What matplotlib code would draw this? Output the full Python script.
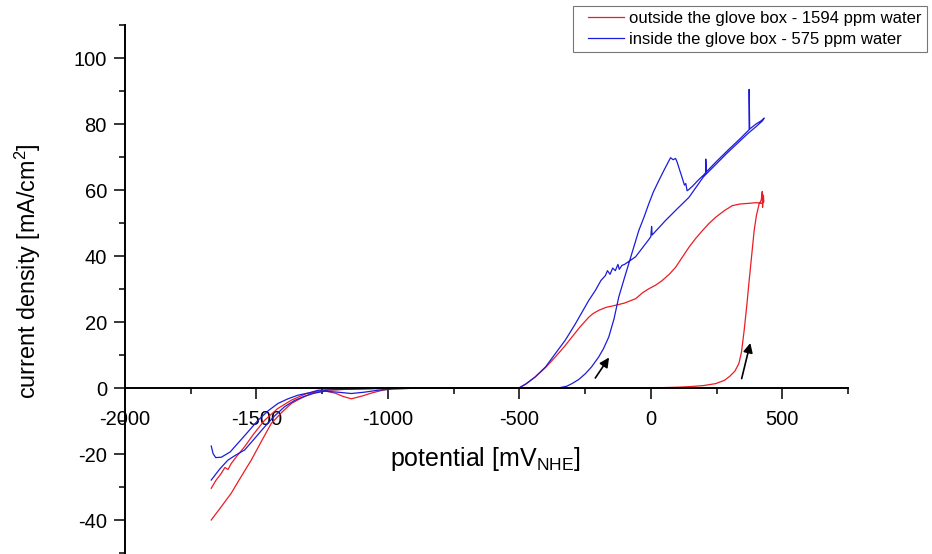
import matplotlib
matplotlib.use('Agg')
import matplotlib.pyplot as plt
from matplotlib.ticker import MultipleLocator
from matplotlib.legend_handler import HandlerLine2D

plt.rcParams['font.family'] = ['Liberation Sans', 'DejaVu Sans']
plt.rcParams['mathtext.default'] = 'regular'
plt.rcParams['axes.unicode_minus'] = False

# outside the glove box (red) - one cycle
red_x = [-1672, -1655, -1634, -1620, -1608, -1596, -1575, -1545, -1510, -1469, -1420, -1367,
         -1310, -1265, -1240, -1200, -1170, -1139, -1100, -1060, -1020, -990, -900, -700, -500,
         -300, -100, 0, 100, 150, 200, 247, 280, 300, 320, 335, 345, 355, 365, 374, 384, 393,
         402, 412, 420, 424, 425, 428, 430,
         424, 400, 374, 340, 310, 280, 247, 220, 196, 170, 145, 120, 94, 70, 43, 20, -8, -30,
         -58, -100, -135, -170, -198, -220, -236, -270, -300, -330, -363, -400, -440, -475, -503,
         -600, -800, -950, -1050, -1150, -1240, -1291, -1330, -1367, -1405, -1444, -1480, -1520,
         -1560, -1596, -1635, -1672]
red_y = [-30.3, -28.0, -25.8, -24.0, -24.6, -22.8, -20.6, -17.7, -13.8, -9.7, -6.2, -3.6,
         -1.6, -0.9, -0.8, -1.5, -2.5, -3.2, -2.4, -1.4, -0.6, -0.2, 0, 0, 0,
         0, 0.05, 0.1, 0.3, 0.5, 0.8, 1.4, 2.4, 3.6, 5.2, 7.5, 11.0, 17.5, 25.0, 32.6, 40.5, 47.7,
         52.5, 55.8, 57.0, 59.6, 54.8, 58.5, 56.5,
         56.0, 56.2, 56.0, 55.8, 55.3, 53.8, 51.8, 49.8, 47.7, 45.3, 42.7, 39.7, 36.6, 34.5, 32.6,
         31.3, 30.1, 29.0, 27.1, 25.8, 25.1, 24.5, 23.6, 22.6, 21.5, 18.5, 15.5, 12.5, 9.5, 6.3,
         3.4, 1.3, 0,
         0, 0, 0, -0.1, -0.3, -0.6, -1.6, -3.0, -4.6, -7.4, -10.7, -15.9, -21.8,
         -27.0, -31.8, -36.0, -39.9]

# inside the glove box (blue)
blue_x = [-1672, -1640, -1609, -1580, -1545, -1510, -1469, -1430, -1393, -1355, -1316, -1280,
          -1240, -1190, -1139, -1090, -1037, -980, -900, -700, -503, -420, -351, -320, -300,
          -275, -249, -225, -198, -180, -160, -140, -122, -100, -84, -65, -46, -25, -8, 10, 30,
          50, 69, 75, 85, 94, 100, 110, 119, 128, 133, 138, 145, 160, 180, 200, 209, 209, 211,
          250, 300, 340, 374, 374, 376, 400, 420, 431,
          425, 400, 370, 330, 290, 250, 200, 145, 100, 56, 5, 3, 0, -8, -58, -100, -110, -120,
          -125, -135, -145, -155, -165, -173, -190, -211, -236, -287, -325, -363, -400, -440,
          -475, -503, -600, -800, -950, -1050, -1150, -1265, -1300, -1342, -1380, -1418, -1455,
          -1494, -1530, -1571, -1600, -1634, -1655, -1665, -1672]
blue_y = [-27.8, -24.5, -21.8, -20.3, -18.7, -15.5, -11.7, -8.3, -5.6, -3.7, -2.4, -1.5,
          -0.9, -1.2, -1.6, -1.2, -0.6, -0.2, 0, 0, 0, 0, 0.1, 0.6, 1.4,
          2.6, 4.4, 6.5, 9.5, 12.0, 15.5, 21.0, 27.6, 33.5, 37.7, 42.7, 47.7, 52.0, 55.8, 59.5, 62.8,
          66.0, 68.9, 69.8, 69.2, 69.6, 68.5, 66.0, 63.8, 61.5, 62.0, 59.8, 60.2, 61.3, 63.0, 64.5,
          65.3, 69.4, 65.5, 68.7, 72.6, 75.6, 78.3, 90.5, 78.5, 80.0, 81.0, 81.8,
          81.0, 79.2, 77.2, 74.2, 71.2, 68.0, 64.0, 57.8, 54.3, 50.8, 46.4, 49.0, 45.9, 45.0, 39.8,
          37.5, 37.2, 36.0, 37.5, 35.6, 36.4, 34.5, 35.6, 34.1, 32.6, 29.6, 26.6, 19.5, 14.6, 10.5,
          6.5, 3.4, 1.3, 0, 0, 0, 0, -0.1, -0.3, -0.6, -1.4, -2.1, -3.2, -4.6, -6.8,
          -9.7, -13.0, -16.7, -19.3, -20.9, -21.0, -19.8, -17.5]

labels = ['outside the glove box - 1594 ppm water', 'inside the glove box - 575 ppm water']

fig = plt.figure(figsize=(9.32, 5.54), dpi=100)
ax = fig.add_axes([125 / 932, 0, 723 / 932, 529 / 554])

ax.plot(red_x, red_y, color='#ec1c24', lw=0.9, label=labels[0])
ax.plot(blue_x, blue_y, color='#1c1cdc', lw=0.9, label=labels[1])

# scan direction arrows
ax.annotate('', xy=(-153, 10.0), xytext=(-217, 2.4),
            arrowprops=dict(arrowstyle='-|>', color='black', lw=1.2, mutation_scale=14))
ax.annotate('', xy=(381, 14.5), xytext=(343, 2.1),
            arrowprops=dict(arrowstyle='-|>', color='black', lw=1.2, mutation_scale=14))

ax.set_xlim(-2000, 750)
ax.set_ylim(-50.2, 110)
ax.spines['top'].set_visible(False)
ax.spines['right'].set_visible(False)
ax.spines['bottom'].set_position(('data', 0))
ax.spines['left'].set_linewidth(1.4)
ax.spines['bottom'].set_linewidth(1.4)

ax.xaxis.set_major_locator(MultipleLocator(500))
ax.xaxis.set_minor_locator(MultipleLocator(250))
ax.yaxis.set_major_locator(MultipleLocator(20))
ax.yaxis.set_minor_locator(MultipleLocator(10))
ax.tick_params(which='major', direction='out', length=8, width=1.1, labelsize=14.5)
ax.tick_params(which='minor', direction='out', length=4.3, width=1.1)
ax.tick_params(axis='x', which='major', pad=8)
ax.tick_params(axis='y', which='major', pad=5)

ax.text(-630, -21.5, 'potential [mV$_{NHE}$]', fontsize=18, ha='center', va='center')
fig.text(28 / 932, 1 - 271 / 554, 'current density [mA/cm$^2$]', fontsize=16.8,
         rotation=90, ha='center', va='center')

leg = fig.legend(loc='upper left', bbox_to_anchor=(573 / 932, 1 - 6 / 554), fontsize=12,
                 frameon=True, fancybox=False, edgecolor='#555555', handlelength=2.78,
                 handletextpad=0.3, labelspacing=0.38, borderpad=0.3, borderaxespad=0,
                 handler_map={plt.Line2D: HandlerLine2D(xpad=0.57)})
leg.get_frame().set_linewidth(0.8)

fig.savefig('out.png', dpi=100)
